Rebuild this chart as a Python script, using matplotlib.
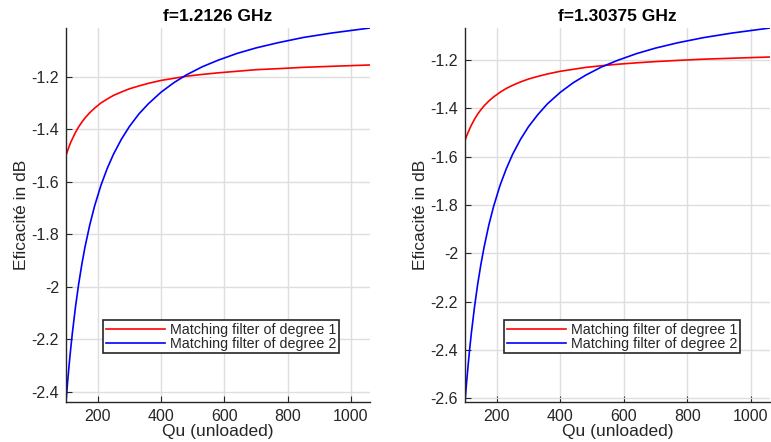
import numpy as np
import matplotlib
matplotlib.use("Agg")
import matplotlib.pyplot as plt

plt.rcParams['font.family'] = ['Liberation Sans', 'DejaVu Sans']

# Qu values (unloaded quality factor)
qu = [100, 105, 110, 115, 120, 130, 140, 150, 160, 175, 190, 210, 230, 250,
      275, 300, 330, 360, 400, 440, 480, 530, 580, 640, 700, 770, 850, 940, 1060]

# f = 1.2126 GHz
left_deg1 = [-1.500, -1.482, -1.465, -1.450, -1.437, -1.412, -1.391, -1.373,
             -1.357, -1.337, -1.320, -1.300, -1.285, -1.271, -1.258, -1.246,
             -1.235, -1.225, -1.214, -1.206, -1.198, -1.191, -1.185, -1.179,
             -1.173, -1.169, -1.164, -1.160, -1.155]
left_deg2 = [-2.440, -2.365, -2.297, -2.235, -2.178, -2.077, -1.990, -1.915,
             -1.849, -1.765, -1.694, -1.615, -1.550, -1.495, -1.438, -1.390,
             -1.342, -1.303, -1.259, -1.223, -1.193, -1.162, -1.137, -1.111,
             -1.090, -1.070, -1.050, -1.033, -1.014]

# f = 1.30375 GHz
right_deg1 = [-1.533, -1.515, -1.499, -1.484, -1.470, -1.445, -1.424, -1.406,
              -1.390, -1.370, -1.353, -1.334, -1.318, -1.305, -1.291, -1.279,
              -1.268, -1.258, -1.247, -1.239, -1.231, -1.224, -1.218, -1.212,
              -1.207, -1.202, -1.197, -1.193, -1.188]
right_deg2 = [-2.615, -2.534, -2.460, -2.392, -2.330, -2.221, -2.127, -2.046,
              -1.975, -1.883, -1.806, -1.720, -1.650, -1.590, -1.528, -1.476,
              -1.425, -1.381, -1.334, -1.295, -1.263, -1.229, -1.202, -1.174,
              -1.151, -1.129, -1.108, -1.089, -1.068]

titles = ['f=1.2126 GHz', 'f=1.30375 GHz']
labels = ['Matching filter of degree 1', 'Matching filter of degree 2']
xticks = [200, 400, 600, 800, 1000]

INK = '#262626'
GRID = '#dedede'

fig = plt.figure(figsize=(7.71, 4.42), dpi=100)
fig.set_facecolor('white')
ax_l = fig.add_axes([66 / 771, 40 / 442, 304 / 771, 374 / 442])
ax_r = fig.add_axes([465 / 771, 40 / 442, 305 / 771, 374 / 442])

panels = [
    (ax_l, left_deg1, left_deg2, titles[0], [-2.4, -2.2, -2.0, -1.8, -1.6, -1.4, -1.2], 0.122),
    (ax_r, right_deg1, right_deg2, titles[1], [-2.6, -2.4, -2.2, -2.0, -1.8, -1.6, -1.4, -1.2], 0.128),
]

for ax, d1, d2, title, yticks, lx in panels:
    ax.plot(qu, d1, color='#ff0000', linewidth=1.2, label=labels[0])
    ax.plot(qu, d2, color='#0000ff', linewidth=1.2, label=labels[1])

    ax.set_xlim(min(qu), max(qu))
    ax.set_ylim(min(d1 + d2), max(d1 + d2))
    ax.set_xticks(xticks)
    ax.set_yticks(yticks)
    ax.set_yticklabels([f'{v:g}' for v in yticks])

    ax.grid(True, color=GRID, linewidth=1.0)
    ax.set_axisbelow(True)
    for side in ('top', 'right'):
        ax.spines[side].set_visible(False)
    for side in ('left', 'bottom'):
        ax.spines[side].set_color(INK)
        ax.spines[side].set_linewidth(1.0)
    ax.tick_params(direction='in', length=4, colors=INK, labelsize=11.5, pad=5)

    ax.set_xlabel('Qu (unloaded)', fontsize=12.5, color=INK, labelpad=0)
    ax.set_ylabel('Eficacité in dB', fontsize=12.5, color=INK, labelpad=2)
    ax.set_title(title, fontsize=12.5, fontweight='bold', color='black', pad=5)

    leg = ax.legend(loc='lower left', bbox_to_anchor=(lx, 0.13), borderaxespad=0,
                    fontsize=10.3, handlelength=4.1, handletextpad=0.35,
                    labelspacing=0.0, borderpad=0.2, fancybox=False,
                    framealpha=1, edgecolor=INK)
    leg.get_frame().set_linewidth(1.2)
    for t in leg.get_texts():
        t.set_color(INK)

fig.savefig('out.png', dpi=100, facecolor='white')
